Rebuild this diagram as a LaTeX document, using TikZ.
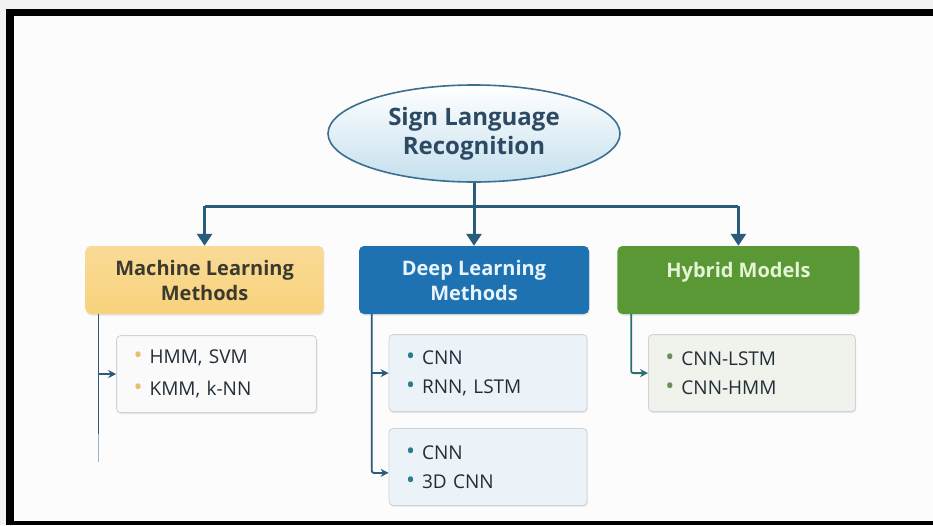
\documentclass[tikz,border=0pt]{standalone}
\usepackage{fontspec}
\setmainfont{Open Sans}
\usetikzlibrary{positioning, shapes.geometric, arrows.meta, shadows}

\definecolor{pagegray}{HTML}{F2F2F2}
\definecolor{canvas}{HTML}{FCFCFC}
\definecolor{rootline}{HTML}{3C6F8E}
\definecolor{rootfill}{HTML}{C5E0EE}
\definecolor{roottext}{HTML}{2C4A63}
\definecolor{trunkline}{HTML}{2A5B7B}
\definecolor{mlfill}{HTML}{F8D27C}
\definecolor{mltext}{HTML}{3A3A2E}
\definecolor{dlfill}{HTML}{1F72B2}
\definecolor{dltext}{HTML}{E8F4FB}
\definecolor{hyfill}{HTML}{5A9836}
\definecolor{hytext}{HTML}{E4F4D4}
\definecolor{leafline}{HTML}{CDD3D8}
\definecolor{itemtext}{HTML}{222D38}
\definecolor{mlleaf}{HTML}{FAFAFA}
\definecolor{dlleaf}{HTML}{EBF3F9}
\definecolor{hyleaf}{HTML}{EFF3EB}
\definecolor{mldot}{HTML}{E5C36E}
\definecolor{dldot}{HTML}{2A7C8E}
\definecolor{hydot}{HTML}{6E8C5C}
\definecolor{hyline}{HTML}{2D6C73}

\begin{document}
\begin{tikzpicture}[
      x=1pt, y=1pt,
      root/.style={ellipse, draw=rootline, line width=1.6pt, top color=white,
      bottom color=rootfill, minimum width=292pt, minimum height=97pt,
      inner sep=0pt, align=center, text=roottext,
      font=\bfseries\fontsize{24}{29}\selectfont},
      head/.style={rectangle, rounded corners=5pt, minimum height=68pt,
      align=center, font=\bfseries\fontsize{20}{25}\selectfont,
      drop shadow={opacity=0.18, shadow xshift=0.8pt, shadow yshift=-1.5pt}},
      leaf/.style={rectangle, draw=leafline, line width=0.8pt,
      rounded corners=4pt, minimum height=77pt, inner xsep=17pt,
      align=left, text=itemtext, font=\fontsize{19}{23}\selectfont,
      drop shadow={opacity=0.15, shadow xshift=0.8pt, shadow yshift=-1.5pt}},
      trunk/.style={draw=trunkline, line width=3pt},
      tip/.style={trunk, -{Triangle[width=15pt, length=12pt]}},
      line/.style={draw=trunkline, -{Stealth[length=8pt, width=8pt]},
      line width=1.8pt}
    ]
    \useasboundingbox (0,0) rectangle (933,-525);
    % page and black frame
    \fill [pagegray] (0,0) rectangle (933,-525);
    \fill [black] (6,-9) rectangle (933,-525);
    \fill [canvas] (14,-16) rectangle (933,-521);

    \node [root] (root) at (474,-133.5) {Sign Language\\Recognition};

    \node [head, fill=dlfill, text=dltext, minimum width=230pt,
      below=63pt of root] (dl) {Deep Learning\\Methods};
    \node [head, top color=mlfill!80!white, bottom color=mlfill,
      text=mltext, minimum width=238pt, left=35pt of dl] (ml)
      {Machine Learning\\Methods};
    \node [head, fill=hyfill, text=hytext, minimum width=242pt,
      text depth=20pt, right=28pt of dl] (hy) {Hybrid Models};

    \node [leaf, fill=mlleaf, text width=166pt, below=21pt of ml,
      xshift=12pt] (mlleaf)
      {{\color{mldot}\fontsize{24}{0}\selectfont\textbullet}\hspace{7pt}HMM, SVM\\[9pt]
      {\color{mldot}\fontsize{24}{0}\selectfont\textbullet}\hspace{7pt}KMM, k-NN};
    \node [leaf, fill=dlleaf, text width=164pt, below=20pt of dl,
      xshift=14pt] (dlone)
      {{\color{dldot}\fontsize{24}{0}\selectfont\textbullet}\hspace{7pt}CNN\\[6pt]
      {\color{dldot}\fontsize{24}{0}\selectfont\textbullet}\hspace{7pt}RNN, LSTM};
    \node [leaf, fill=dlleaf, text width=164pt, below=16pt of dlone]
      (dltwo)
      {{\color{dldot}\fontsize{24}{0}\selectfont\textbullet}\hspace{7pt}CNN\\[6pt]
      {\color{dldot}\fontsize{24}{0}\selectfont\textbullet}\hspace{7pt}3D CNN};
    \node [leaf, fill=hyleaf, text width=173pt, below=20pt of hy,
      xshift=13.5pt] (hyleaf)
      {{\color{hydot}\fontsize{24}{0}\selectfont\textbullet}\hspace{7pt}CNN-LSTM\\[6pt]
      {\color{hydot}\fontsize{24}{0}\selectfont\textbullet}\hspace{7pt}CNN-HMM};

    % top level
    \coordinate (bar) at ([yshift=-23.5pt]root.south);
    \path [trunk] (ml.north |- bar) -- (hy.north |- bar);
    \path [tip] (root.south) -- (dl.north);
    \path [tip] (ml.north |- bar) -- (ml.north);
    \path [tip] (hy.north |- bar) -- (hy.north);

    % branches
    \coordinate (mltop) at ([xshift=13pt]ml.south west);
    \coordinate (mlmid) at ([yshift=-120pt]mltop);
    \coordinate (mlend) at ([yshift=-148pt]mltop);
    \path [draw=trunkline, line width=1.8pt] (mltop) -- (mlmid);
    \path [draw=trunkline!45, line width=1.8pt] (mlmid) -- (mlend);
    \path [line] (mltop |- mlleaf.west) -- (mlleaf.west);

    \coordinate (dltop) at ([xshift=13pt]dl.south west);
    \path [line] (dltop |- dlone.west) -- (dlone.west);
    \path [line, rounded corners=2pt] (dltop) |- ([yshift=-6pt]dltwo.west);

    \coordinate (hytop) at ([xshift=14pt]hy.south west);
    \path [line, draw=hyline, rounded corners=2pt] (hytop) |- (hyleaf.west);
  \end{tikzpicture}
\end{document}
